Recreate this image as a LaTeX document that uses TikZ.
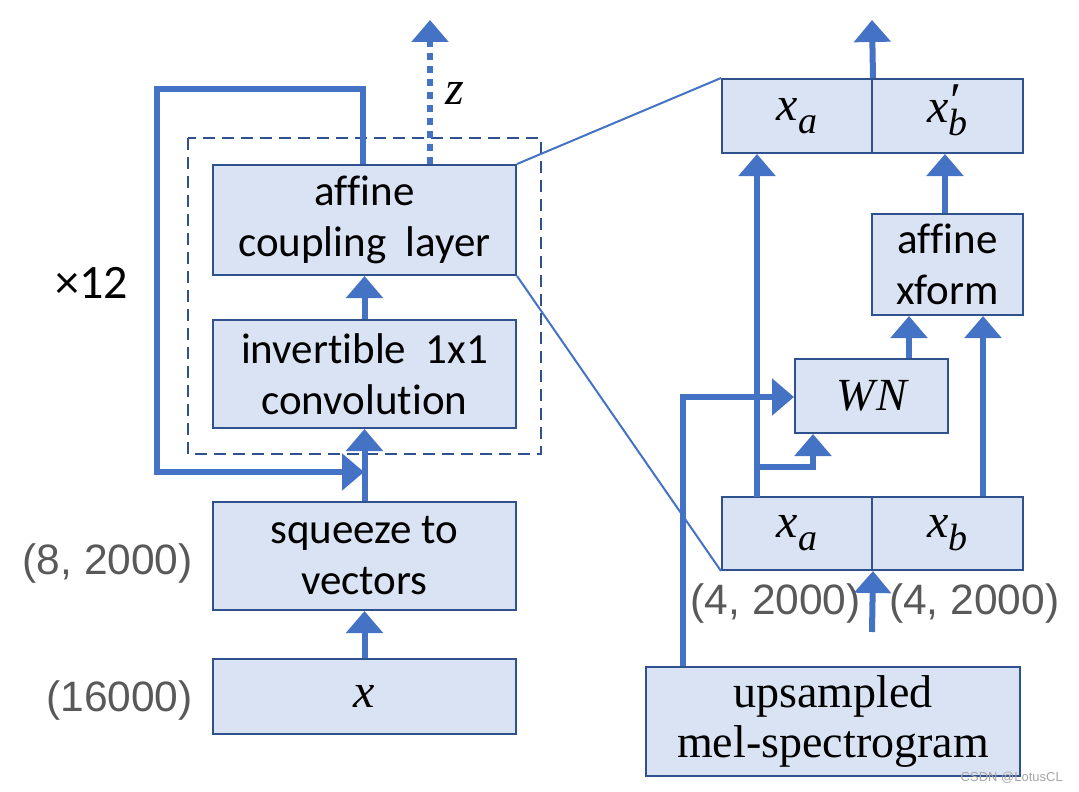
\documentclass[tikz,border=0pt]{standalone}
\usepackage{fontspec}
\setmainfont{Carlito}[Ligatures=NoCommon]
\newfontfamily\numfont{Liberation Sans}
\newfontfamily\serfont{Liberation Serif}
\newfontfamily\mathfnt{Liberation Serif}
\usetikzlibrary{arrows.meta}
\definecolor{boxfill}{HTML}{DAE3F3}
\definecolor{boxline}{HTML}{2F528F}
\definecolor{arr}{HTML}{4472C4}
\definecolor{graytext}{HTML}{595959}
\newcommand\mv[1]{{\mathfnt\itshape #1}}
\newcommand\subv[1]{\raisebox{-0.3em}{\fontsize{38}{40}\selectfont\mv{#1}}}
\newcommand\bigv[1]{{\fontsize{48}{52}\selectfont\mv{#1}}}
\newcommand\primesub[1]{\raisebox{-0.3em}{\fontsize{38}{40}\selectfont\begin{tabular}[b]{@{}l@{}}{\fontsize{50}{20}\selectfont\mathfnt\itshape\kern-1pt ′}\\[-22pt]\mv{#1}\end{tabular}}}
\tikzset{
  blk/.style={draw=boxline, line width=2pt, fill=boxfill, inner sep=0pt, align=center,
    font=\fontsize{43}{51}\selectfont},
  flow/.style={draw=arr, line width=6pt, -{Triangle[width=36pt,length=22pt]}, line join=miter},
  thin/.style={draw=arr, line width=2pt},
  dimlbl/.style={text=graytext, font=\numfont\fontsize{42.5}{48}\selectfont, inner sep=0pt},
}
\begin{document}
\begin{tikzpicture}[x=1pt, y=-1pt]
\useasboundingbox (0,0) rectangle (1079,792);
% left column
\node[blk, minimum width=303pt, minimum height=110pt] (acl) at (364.5,220) {affine\\coupling\ \ layer};
\node[blk, minimum width=303pt, minimum height=108pt] (inv) at (364.5,374) {invertible\ \ 1x1\\convolution};
\node[blk, minimum width=303pt, minimum height=108pt] (sqz) at (364.5,556) {squeeze to\\vectors};
\node[blk, minimum width=303pt, minimum height=75pt] (xin) at (364.5,696.5) {\bigv{x}};
\draw[boxline, line width=1.5pt, dash pattern=on 12pt off 7pt] (188,138) rectangle (541,454);
\node[dimlbl, anchor=east] (l8) at (193,563) {(8, 2000)};
\node[dimlbl, anchor=east] (l16) at (193,700) {(16000)};
\node[font=\fontsize{48}{52}\selectfont, inner sep=0pt] (x12) at (92,283) {×12};
\node[inner sep=0pt] (zl) at (455,93) {\bigv{z}};
\coordinate (ztop) at (430,20);
\coordinate (lp1) at (363,89);
\coordinate (lp2) at (157,89);
\coordinate (lp3) at (157,472);
\coordinate (lp4) at (364,472);
\draw[flow] (xin.north) -- (sqz.south);
\draw[flow] (sqz.north) -- (inv.south);
\draw[flow] (inv.north) -- (acl.south);
\draw[flow] (acl.north -| lp1) -- (lp1) -- (lp2) -- (lp3) -- (lp4);
\draw[flow, line cap=butt, dash pattern=on 7pt off 6pt] (acl.north -| ztop) -- (ztop);
% right column
\node[blk, minimum width=150pt, minimum height=74pt] (xa2) at (797,116) {\bigv{x}\subv{a}};
\node[blk, minimum width=151pt, minimum height=74pt] (xb2) at (947.5,116) {\bigv{x}\primesub{b}};
\node[blk, minimum width=151pt, minimum height=101pt] (aff) at (947.5,264.5) {affine\\xform};
\node[blk, minimum width=153pt, minimum height=74pt] (wn) at (871.5,396) {{\fontsize{46}{50}\selectfont\mv{W\kern2pt N}}};
\node[blk, minimum width=150pt, minimum height=73pt] (xa1) at (797,533.5) {\bigv{x}\subv{a}};
\node[blk, minimum width=151pt, minimum height=73pt] (xb1) at (947.5,533.5) {\bigv{x}\subv{b}};
\node[blk, minimum width=374pt, minimum height=109pt, font=\serfont\fontsize{46}{50}\selectfont] (mel) at (833,721.5) {upsampled\\mel-spectrogram};
\node[dimlbl, anchor=east] (d1) at (861,603) {(4, 2000)};
\node[dimlbl, anchor=west] (d2) at (889,603) {(4, 2000)};
\coordinate (outtop) at (872,20);
\coordinate (xaup) at (757,497);
\coordinate (br1) at (757,467);
\coordinate (br2) at (813,467);
\coordinate (m1) at (683,397);
\coordinate (inbot) at (872,632);
\draw[flow] (xa2.north east) -- (outtop);
\draw[flow] (xaup) -- (xaup |- xa2.south);
\draw[flow] (br1) -- (br2) -- (br2 |- wn.south);
\draw[flow] (mel.north -| m1) -- (m1) -- (wn.west |- m1);
\draw[flow] (wn.north -| 909,0) -- (909,0 |- aff.south);
\draw[flow] (xb1.north -| 983,0) -- (983,0 |- aff.south);
\draw[flow] (aff.north -| 945,0) -- (945,0 |- xb2.south);
\draw[flow] (inbot) -- (xa1.south east);
% zoom lines
\draw[thin] (acl.north east) -- (xa2.north west);
\draw[thin] (acl.south east) -- (xa1.south west);
\node[text=gray!70, font=\numfont\fontsize{13}{15}\selectfont, anchor=east, inner sep=0pt] (wm) at (1063,778) {CSDN @LotusCL};
\end{tikzpicture}
\end{document}
